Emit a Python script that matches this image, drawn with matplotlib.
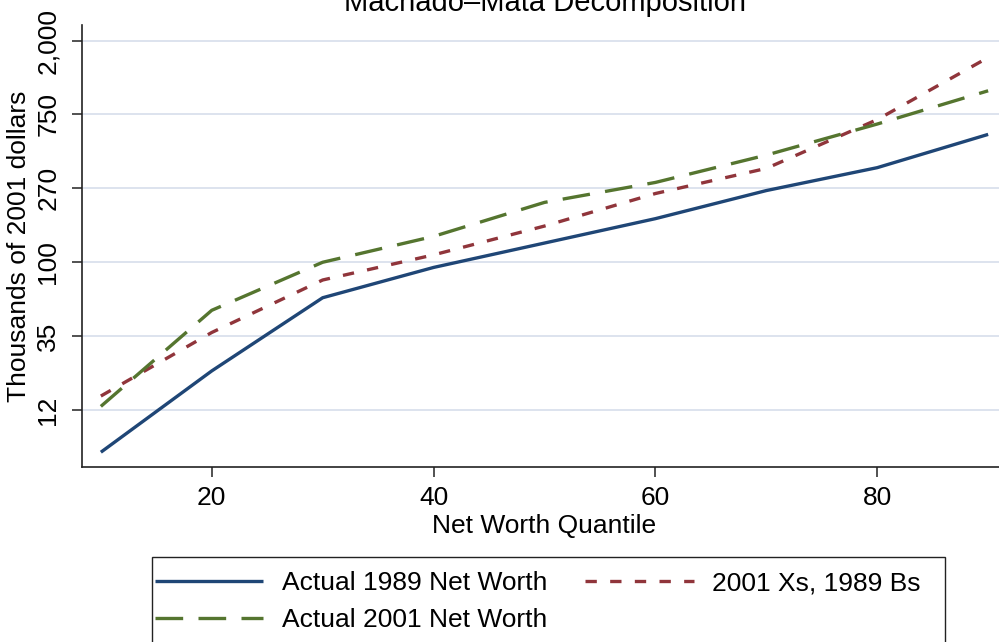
import matplotlib.pyplot as plt
from matplotlib.patches import Rectangle

plt.rcParams['font.family'] = ['Liberation Sans', 'DejaVu Sans']

# Cuantiles de patrimonio neto y log (miles de dólares de 2001)
cuantiles = [10, 20, 30, 40, 50, 60, 70, 80, 90]
ln_1989 = [1.93, 3.03, 4.02, 4.43, 4.76, 5.09, 5.47, 5.78, 6.23]
ln_2001 = [2.55, 3.85, 4.50, 4.85, 5.31, 5.58, 5.95, 6.37, 6.82]
ln_contraf = [2.69, 3.55, 4.26, 4.60, 4.99, 5.43, 5.77, 6.43, 7.27]

pos_y = [2.5, 3.5, 4.5, 5.5, 6.5, 7.5]
etiquetas_y = ['12', '35', '100', '270', '750', '2,000']
ticks_x = [20, 40, 60, 80]

W, H = 999, 642
fig = plt.figure(figsize=(W / 100, H / 100), dpi=100)
fig.patch.set_facecolor('white')

# el área de trazado sigue más allá del borde derecho
izq, der, arriba, abajo = 82, 1007, 25, 467
ax = fig.add_axes([izq / W, 1 - abajo / H, (der - izq) / W, (abajo - arriba) / H])

l1, = ax.plot(cuantiles, ln_1989, color='#1F4676', lw=2.4, solid_capstyle='butt',
              label='Actual 1989 Net Worth')
l3, = ax.plot(cuantiles, ln_contraf, color='#90353B', lw=2.4, dashes=(3.4, 4.0),
              label='2001 Xs, 1989 Bs')
l2, = ax.plot(cuantiles, ln_2001, color='#55752F', lw=2.4, dashes=(8.3, 4.6),
              label='Actual 2001 Net Worth')

ax.set_xlim(8.3, 91.7)
ax.set_ylim(1.73, 7.71)
ax.set_xticks(ticks_x)
ax.set_yticks(pos_y)
ax.set_yticklabels(etiquetas_y)
ax.grid(axis='y', color='#DDE3EE', lw=1.4)
ax.set_axisbelow(True)

for lado in ['top', 'right']:
    ax.spines[lado].set_visible(False)
for lado in ['left', 'bottom']:
    ax.spines[lado].set_color('#222222')
    ax.spines[lado].set_linewidth(1.2)

ax.tick_params(axis='both', direction='out', length=7.5, width=1.1, color='#222222',
               labelsize=19)
ax.tick_params(axis='y', labelrotation=90, pad=8)
ax.tick_params(axis='x', pad=6)
for t in ax.get_yticklabels():
    t.set_va('center')

ax.set_xlabel('Net Worth Quantile', fontsize=19, labelpad=3)
ax.set_ylabel('Thousands of 2001 dollars', fontsize=19, labelpad=4)

fig.text(544.5 / W, 1 - 11 / H, 'Machado\u2013Mata Decomposition', ha='center',
         va='baseline', fontsize=21)

# recuadro de la leyenda
fig.patches.append(Rectangle((152 / W, 1 - 665 / H), (945 - 152) / W, (665 - 557) / H,
                             transform=fig.transFigure, facecolor='white',
                             edgecolor='#222222', lw=1.0))
fig.legend(handles=[l1, l2, l3], ncol=2, loc='upper left', frameon=False,
           bbox_to_anchor=(155 / W, 1 - 571 / H), borderaxespad=0, borderpad=0,
           fontsize=19, handlelength=4.1, handletextpad=0.7, columnspacing=1.45,
           labelspacing=0.5)

fig.savefig('out.png', dpi=100)
